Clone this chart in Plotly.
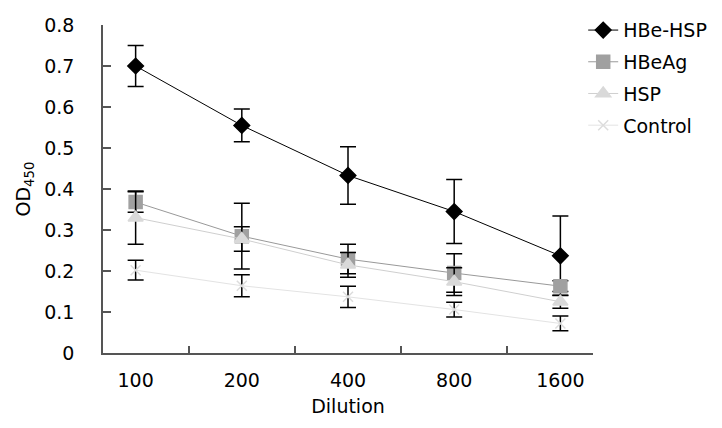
import plotly.graph_objects as go

dilutions = ["100", "200", "400", "800", "1600"]
hbe_hsp = [0.70, 0.555, 0.433, 0.345, 0.237]
hbe_hsp_err = [0.05, 0.04, 0.07, 0.078, 0.097]
hbeag = [0.368, 0.285, 0.229, 0.195, 0.163]
hbeag_err = [0.025, 0.08, 0.036, 0.047, 0.013]
hsp = [0.330, 0.278, 0.215, 0.174, 0.125]
hsp_err = [0.065, 0.03, 0.03, 0.034, 0.016]
control = [0.202, 0.164, 0.137, 0.106, 0.072]
control_err = [0.024, 0.027, 0.026, 0.018, 0.018]

series = [
    ("HBe-HSP", hbe_hsp, hbe_hsp_err, "#000000", "#000000", "diamond", 12, 1),
    ("HBeAg", hbeag, hbeag_err, "#999999", "#a0a0a0", "square", 13, 1),
    ("HSP", hsp, hsp_err, "#cfcfcf", "#d9d9d9", "triangle-up", 13, 1),
    ("Control", control, control_err, "#e3e3e3", "#dcdcdc", "x-thin-open", 10, 1),
]

fig = go.Figure()
for i, (name, vals, errs, lcol, mcol, sym, size, lw) in enumerate(series):
    fig.add_trace(go.Scatter(
        x=dilutions, y=vals, name=name, mode="lines+markers",
        legendgroup=name,
        line=dict(color=lcol, width=lw),
        marker=dict(symbol=sym, size=size, color=mcol,
                    line=dict(color=mcol, width=1.5)),
        error_y=dict(type="data", array=errs, visible=True,
                     color="#000000", thickness=1.5, width=8),
    ))

fig.update_layout(
    width=714, height=420,
    margin=dict(l=95, r=129, t=17, b=75, autoexpand=False),
    paper_bgcolor="white", plot_bgcolor="white",
    font=dict(family="DejaVu Sans", size=19, color="#000000"),
    showlegend=True,
    legend=dict(x=0.98, y=1.042, xanchor="left", yanchor="top",
                font=dict(size=19), tracegroupgap=4,
                bgcolor="rgba(0,0,0,0)"),
    xaxis=dict(
        type="category", showgrid=False, showline=True,
        linecolor="#555555", linewidth=1.5,
        ticks="inside", ticklen=7, tickcolor="#555555", tickwidth=1.5,
        tickson="boundaries", ticklabelstandoff=9,
        title=dict(text="Dilution", font=dict(size=19), standoff=10),
        zeroline=False,
    ),
    yaxis=dict(
        range=[0, 0.8], dtick=0.1, showgrid=False, showline=True,
        linecolor="#555555", linewidth=1.5,
        ticks="inside", ticklen=8, tickcolor="#555555", tickwidth=1.5,
        tickformat="~g", ticklabelstandoff=23,
        title=dict(text="OD<sub>450</sub>", font=dict(size=19), standoff=9),
        zeroline=False,
    ),
)

fig.write_html("out.html")
